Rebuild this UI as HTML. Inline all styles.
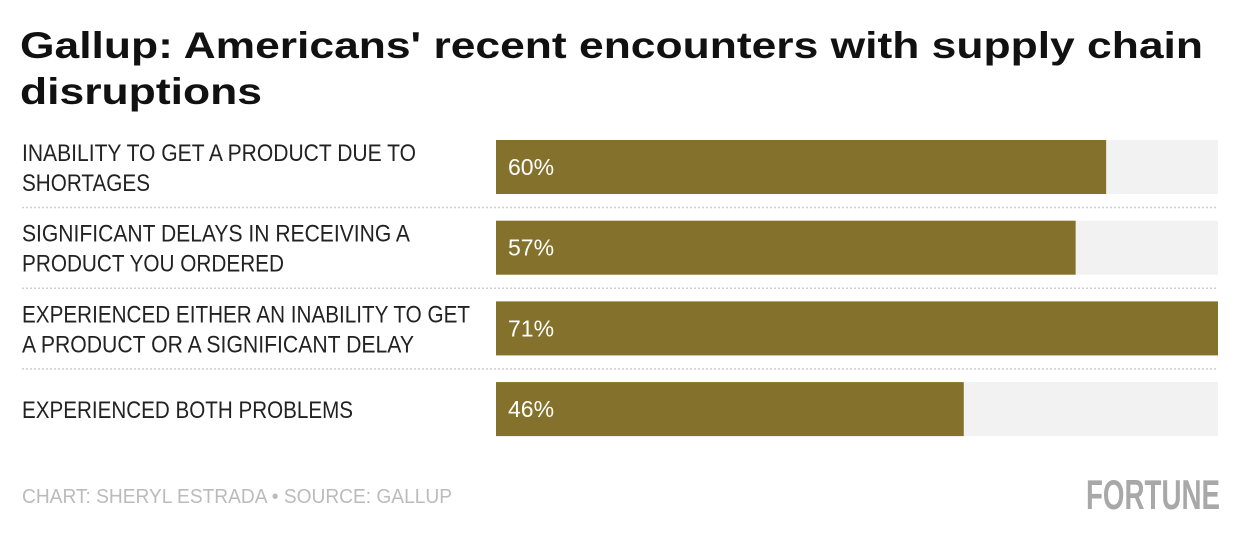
<!DOCTYPE html>
<html><head><meta charset="utf-8"><style>
html,body{margin:0;padding:0;background:#fff;}
svg{display:block;font-family:"Liberation Sans Narrow","Liberation Sans",sans-serif;}
</style></head><body>
<svg id="chart" width="1240" height="536" viewBox="0 0 1240 536" xmlns="http://www.w3.org/2000/svg">
<text x="20" y="58" font-family="Liberation Sans, sans-serif" font-weight="bold" font-size="37" fill="#111" textLength="1183" lengthAdjust="spacingAndGlyphs">Gallup: Americans' recent encounters with supply chain</text>
<text x="20" y="104" font-family="Liberation Sans, sans-serif" font-weight="bold" font-size="37" fill="#111" textLength="242" lengthAdjust="spacingAndGlyphs">disruptions</text>
<g id="rows"></g>
<text x="22" y="503" font-size="20" fill="#bbbbbb" textLength="430" lengthAdjust="spacingAndGlyphs">CHART: SHERYL ESTRADA • SOURCE: GALLUP</text>
<text x="1086" y="509" font-size="42" font-weight="bold" fill="#a8a8a8" textLength="134" lengthAdjust="spacingAndGlyphs">FORTUNE</text>
</svg>
<script>
const categories = [
  ["INABILITY TO GET A PRODUCT DUE TO", "SHORTAGES"],
  ["SIGNIFICANT DELAYS IN RECEIVING A", "PRODUCT YOU ORDERED"],
  ["EXPERIENCED EITHER AN INABILITY TO GET", "A PRODUCT OR A SIGNIFICANT DELAY"],
  ["EXPERIENCED BOTH PROBLEMS"]
];
const values = [60, 57, 71, 46];
const valueLabels = ["60%", "57%", "71%", "46%"];
const labelWidths = [[394, 128], [388, 262], [448, 392], [331]];

const NS = "http://www.w3.org/2000/svg";
const g = document.getElementById("rows");
const x0 = 496, x1 = 1218, maxV = Math.max(...values);
const xScale = v => (v / maxV) * (x1 - x0);
const rowTop = i => 140 + i * 80.7;
const barH = 54;
function mk(tag, attrs){const e=document.createElementNS(NS,tag);for(const k in attrs)e.setAttribute(k,attrs[k]);return e;}
values.forEach((v, i) => {
  const y = rowTop(i);
  const track = mk("rect", {x:x0, y:y, width:x1-x0, height:barH, fill:"#f2f2f2"});
  
  
  g.appendChild(track);
  const bar = mk("rect", {x:x0, y:y, width:xScale(v), height:barH, fill:"#84712b"});
  
  
  g.appendChild(bar);
  const vl = mk("text", {x:x0+12, y:y+barH/2+8, "font-size":23, fill:"#fff"});
  vl.textContent = valueLabels[i];
  
  
  g.appendChild(vl);
  const lines = categories[i];
  const mid = y + barH/2;
  const startBase = lines.length === 1 ? mid + 9 : mid - 6;
  lines.forEach((ln, j) => {
    const t = mk("text", {x:22, y:startBase + j*30, "font-size":24, fill:"#222", textLength:labelWidths[i][j], lengthAdjust:"spacingAndGlyphs"});
    t.textContent = ln;
    
    
    g.appendChild(t);
  });
  if (i < values.length - 1) {
    const sep = mk("line", {x1:22, x2:1218, y1:y+barH+13.5, y2:y+barH+13.5, stroke:"#cfcfcf", "stroke-width":1.5, "stroke-dasharray":"2 2"});
    
    
    g.appendChild(sep);
  }
});
</script>
</body></html>
